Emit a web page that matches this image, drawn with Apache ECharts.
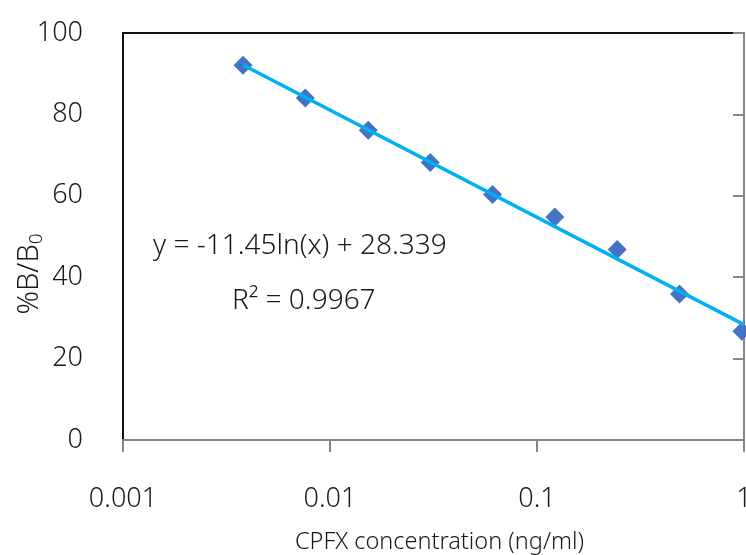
<!DOCTYPE html>
<html>
<head>
<meta charset="utf-8">
<script src="https://cdn.jsdelivr.net/npm/echarts@6/dist/echarts.min.js"></script>
<style>
  html, body { margin: 0; padding: 0; background: #ffffff; }
  #chart { width: 746px; height: 555px; }
</style>
</head>
<body>
<div id="chart"></div>
<script>
// Standard curve: CPFX concentration (ng/ml) vs %B/B0
const concentrations = [0.0038, 0.0076, 0.0153, 0.0305, 0.061, 0.122, 0.244, 0.488, 0.977];
const bindingPercent = [92.1, 84.0, 76.1, 68.2, 60.3, 54.8, 46.8, 35.9, 26.7];
const xTickLabels = ['0.001', '0.01', '0.1', '1'];
const yTickLabels = ['0', '20', '40', '60', '80', '100'];

// Logarithmic fit y = a*ln(x) + b
const fitSlope = -11.45;
const fitIntercept = 28.339;
const fitRSquared = '0.9967';

const FONT = '"Noto Sans", sans-serif';
const WEIGHT = 300;
const TEXT_COLOR = '#1a1a1a';
const AXIS_GRAY = '#868686';

const scatterData = concentrations.map((x, i) => [x, bindingPercent[i]]);
const fitStart = concentrations[0];
const fitEnd = 1;
const fitLine = [fitStart, fitEnd].map(x => [x, fitSlope * Math.log(x) + fitIntercept]);

function xLabelFor(v) {
  const t = xTickLabels.find(s => Math.abs(Math.log10(Number(s)) - Math.log10(v)) < 1e-6);
  return t !== undefined ? t : '';
}

const chart = echarts.init(document.getElementById('chart'), null, { renderer: 'canvas' });

chart.setOption({
  animation: false,
  backgroundColor: '#ffffff',
  grid: {
    left: 123, top: 33, width: 621, height: 407,
    outerBoundsMode: 'none',
    containLabel: false,
    show: true, borderColor: '#111111', borderWidth: 2, backgroundColor: 'transparent'
  },
  xAxis: {
    type: 'log',
    logBase: 10,
    min: 0.001,
    max: 1,
    name: 'CPFX concentration (ng/ml)',
    nameLocation: 'middle',
    nameGap: 90,
    nameTextStyle: { fontFamily: FONT, fontWeight: WEIGHT, fontSize: 23.5, color: TEXT_COLOR, padding: [0, 0, 0, 12] },
    axisLine: { show: true, lineStyle: { color: AXIS_GRAY, width: 2 } },
    axisTick: { show: true, inside: false, length: 12, lineStyle: { color: AXIS_GRAY, width: 2 } },
    minorTick: { show: false },
    splitLine: { show: false },
    axisLabel: {
      fontFamily: FONT, fontWeight: WEIGHT, fontSize: 27, color: TEXT_COLOR, margin: 46,
      formatter: xLabelFor
    }
  },
  yAxis: [
    {
      type: 'value',
      min: 0, max: 100, interval: 20,
      position: 'left',
      axisLine: { show: true, lineStyle: { color: '#111111', width: 2 } },
      axisTick: { show: false },
      splitLine: { show: false },
      axisLabel: {
        fontFamily: FONT, fontWeight: WEIGHT, fontSize: 27, color: TEXT_COLOR, margin: 40,
        formatter: v => yTickLabels[Math.round(v / 20)]
      }
    },
    {
      type: 'value',
      min: 0, max: 100, interval: 20,
      position: 'right',
      axisLine: { show: true, lineStyle: { color: AXIS_GRAY, width: 2 } },
      axisTick: { show: true, inside: true, length: 11, lineStyle: { color: AXIS_GRAY, width: 2 } },
      axisLabel: { show: false },
      splitLine: { show: false }
    }
  ],
  series: [
    {
      name: 'Standards',
      type: 'scatter',
      data: scatterData,
      symbol: 'diamond',
      symbolSize: 19,
      clip: true,
      itemStyle: { color: '#4472C4', opacity: 1 },
      z: 2
    },
    {
      name: 'Log fit',
      type: 'line',
      data: fitLine,
      showSymbol: false,
      symbol: 'none',
      clip: true,
      lineStyle: { color: '#00B0F0', width: 3.5 },
      z: 3
    }
  ],
  graphic: [
    {
      // vertical axis title
      type: 'text',
      x: 30, y: 274,
      rotation: Math.PI / 2,
      style: {
        text: '%B/B{sub|0}',
        align: 'center', verticalAlign: 'middle',
        fontFamily: FONT, fontWeight: WEIGHT, fontSize: 29, fill: TEXT_COLOR,
        rich: { sub: { fontFamily: FONT, fontWeight: WEIGHT, fontSize: 19, fill: TEXT_COLOR, padding: [14, 0, 0, 0] } }
      }
    },
    {
      type: 'text',
      left: 153, top: 232,
      style: {
        text: 'y = ' + fitSlope + 'ln(x) + ' + fitIntercept,
        fontFamily: FONT, fontWeight: WEIGHT, fontSize: 28, fill: TEXT_COLOR
      }
    },
    {
      type: 'text',
      left: 232, top: 287,
      style: {
        text: 'R² = ' + fitRSquared,
        fontFamily: FONT, fontWeight: WEIGHT, fontSize: 28, fill: TEXT_COLOR
      }
    }
  ]
});
</script>
</body>
</html>
